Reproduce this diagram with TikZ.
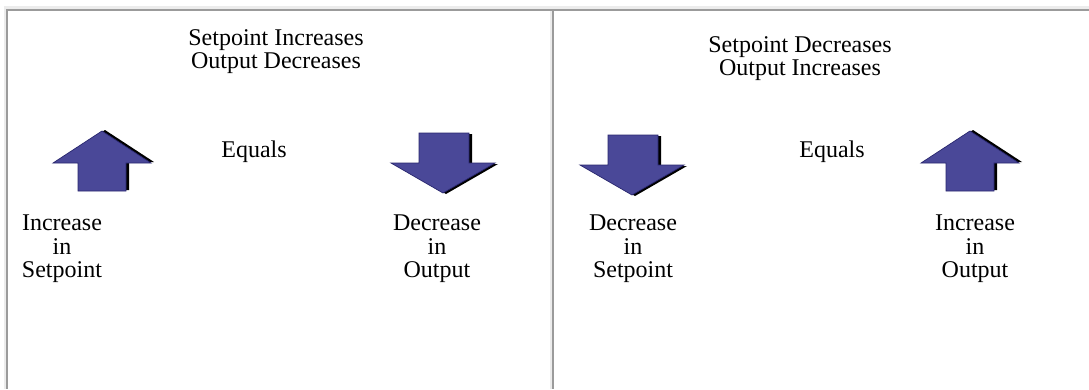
\documentclass[tikz,border=0pt]{standalone}
\usepackage{fontspec}
\setmainfont{Liberation Serif}
\begin{document}
\begin{tikzpicture}[x=1pt,y=-1pt]
\definecolor{arrowfill}{RGB}{74,72,152}
\definecolor{arrowedge}{RGB}{40,38,110}
\definecolor{bordergray}{RGB}{155,155,155}
\definecolor{borderlight}{RGB}{236,236,236}
\tikzset{
  lbl/.style={font=\fontsize{24}{26}\selectfont, anchor=base, inner sep=0pt},
  arrowbody/.style={fill=arrowfill, draw=arrowedge, line width=0.7pt, line join=miter},
  uparrow/.pic={
    \fill[black] (3,-1) -- (52,31) -- (27,31) -- (27,59) -- (-21,59) -- (-21,31) -- (-46,31) -- cycle;
    \path[arrowbody] (0,0) -- (49,32) -- (24,32) -- (24,60) -- (-24,60) -- (-24,32) -- (-49,32) -- cycle;
  },
  downarrow/.pic={
    \fill[black] (-21,1) -- (29,1) -- (29,31) -- (55,31) -- (3,61) -- (-49,31) -- (-21,31) -- cycle;
    \path[arrowbody] (-24,0) -- (26,0) -- (26,30) -- (52,30) -- (0,60) -- (-52,30) -- (-24,30) -- cycle;
  }
}
\useasboundingbox (0,0) rectangle (1089,389);
\fill[white] (0,0) rectangle (1089,389);
% table borders
\fill[borderlight] (4,6) rectangle (1089,9);
\fill[borderlight] (4,6) rectangle (6,389);
\fill[borderlight] (550,11) rectangle (552,389);
\fill[bordergray] (6,9) rectangle (1089,11);
\fill[bordergray] (6,9) rectangle (7.6,389);
\fill[bordergray] (552,11) rectangle (554,389);

% left cell
\node[lbl] (t1a) at (276,45) {Setpoint Increases};
\node[lbl] (t1b) at (276,68) {Output Decreases};
\pic (up1) at (102,131) {uparrow};
\node[lbl] (eq1) at (254,157) {Equals};
\pic (dn1) at (443,133) {downarrow};
\node[lbl] (l1a) at (62,230) {Increase};
\node[lbl] (l1b) at (62,254) {in};
\node[lbl] (l1c) at (62,277) {Setpoint};
\node[lbl] (r1a) at (437,230) {Decrease};
\node[lbl] (r1b) at (437,254) {in};
\node[lbl] (r1c) at (437,277) {Output};

% right cell
\node[lbl] (t2a) at (800,52) {Setpoint Decreases};
\node[lbl] (t2b) at (800,75) {Output Increases};
\pic (dn2) at (632,135) {downarrow};
\node[lbl] (eq2) at (832,157) {Equals};
\pic (up2) at (970,131) {uparrow};
\node[lbl] (l2a) at (633,230) {Decrease};
\node[lbl] (l2b) at (633,254) {in};
\node[lbl] (l2c) at (633,277) {Setpoint};
\node[lbl] (r2a) at (975,230) {Increase};
\node[lbl] (r2b) at (975,254) {in};
\node[lbl] (r2c) at (975,277) {Output};
\end{tikzpicture}
\end{document}
